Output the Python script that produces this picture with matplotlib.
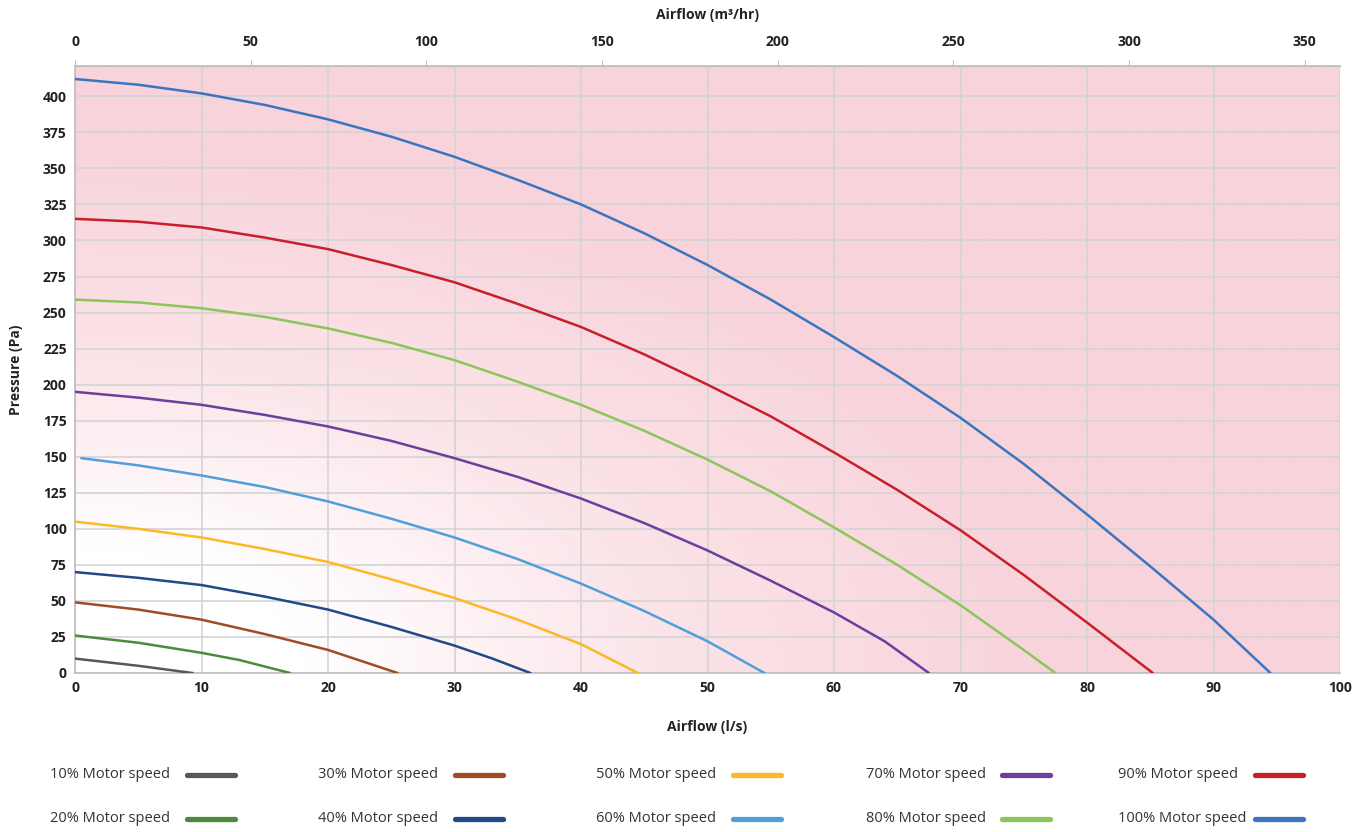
import matplotlib
matplotlib.use('Agg')
import matplotlib.pyplot as plt
import numpy as np
from matplotlib.colors import LinearSegmentedColormap
from matplotlib.lines import Line2D

plt.rcParams['font.family'] = ['Open Sans', 'DejaVu Sans']

# ── data: airflow (l/s) vs pressure (Pa) per motor speed ────────────────────
speeds = ['10%', '20%', '30%', '40%', '50%', '60%', '70%', '80%', '90%', '100%']

flow_10 = [0, 5, 9.3]
pres_10 = [10, 5, 0]
flow_20 = [0, 5, 10, 13, 17]
pres_20 = [26, 21, 14, 9, 0]
flow_30 = [0, 5, 10, 15, 20, 25.5]
pres_30 = [49, 44, 37, 27, 16, 0]
flow_40 = [0, 5, 10, 15, 20, 25, 30, 33, 36]
pres_40 = [70, 66, 61, 53, 44, 32, 19, 10, 0]
flow_50 = [0, 5, 10, 15, 20, 25, 30, 35, 40, 44.5]
pres_50 = [105, 100, 94, 86, 77, 65, 52, 37, 20, 0]
flow_60 = [0.5, 5, 10, 15, 20, 25, 30, 35, 40, 45, 50, 54.5]
pres_60 = [149, 144, 137, 129, 119, 107, 94, 79, 62, 43, 22, 0]
flow_70 = [0, 5, 10, 15, 20, 25, 30, 35, 40, 45, 50, 55, 60, 64, 67.5]
pres_70 = [195, 191, 186, 179, 171, 161, 149, 136, 121, 104, 85, 64, 42, 22, 0]
flow_80 = [0, 5, 10, 15, 20, 25, 30, 35, 40, 45, 50, 55, 60, 65, 70, 75, 77.5]
pres_80 = [259, 257, 253, 247, 239, 229, 217, 202, 186, 168, 148, 126, 101, 75, 47, 16, 0]
flow_90 = [0, 5, 10, 15, 20, 25, 30, 35, 40, 45, 50, 55, 60, 65, 70, 75, 80, 85.2]
pres_90 = [315, 313, 309, 302, 294, 283, 271, 256, 240, 221, 200, 178, 153, 127, 99, 68, 35, 0]
flow_100 = [0, 5, 10, 15, 20, 25, 30, 35, 40, 45, 50, 55, 60, 65, 70, 75, 80, 85, 90, 94.5]
pres_100 = [412, 408, 402, 394, 384, 372, 358, 342, 325, 305, 283, 259, 233, 206, 177, 145, 110, 74, 37, 0]

flows = [flow_10, flow_20, flow_30, flow_40, flow_50, flow_60, flow_70, flow_80, flow_90, flow_100]
pressures = [pres_10, pres_20, pres_30, pres_40, pres_50, pres_60, pres_70, pres_80, pres_90, pres_100]

colors = ['#58585A', '#4E8A3E', '#A24A26', '#1F4A85', '#FDB827',
          '#4F9FDB', '#6A3F9E', '#8CC65A', '#C8202B', '#3B74BF']

x_ticks = list(range(0, 101, 10))
y_ticks = list(range(0, 401, 25))
top_ticks = list(range(0, 351, 50))

fig = plt.figure(figsize=(13.7, 8.32), dpi=100)
fig.patch.set_facecolor('white')
ax = fig.add_axes([75 / 1370, 1 - 673 / 832, 1265 / 1370, 607 / 832])

XMAX, YMAX = 100, 421
ax.set_xlim(0, XMAX)
ax.set_ylim(0, YMAX)

# ── pink gradient background (white in the lower-left corner) ───────────────
gx, gy = np.meshgrid(np.linspace(0, 1, 400), np.linspace(0, 1, 300))
r = np.sqrt(gx ** 2 + (gy * 0.9) ** 2)
t = np.clip((r - 0.18) / 0.6, 0, 1)
cmap = LinearSegmentedColormap.from_list('bg', ['#FFFFFF', '#FBE3E8', '#F8D3DB'])
ax.imshow(t, cmap=cmap, extent=[0, XMAX, 0, YMAX], origin='lower',
          aspect='auto', zorder=0, vmin=0, vmax=1)

# grid
for xv in x_ticks:
    ax.axvline(xv, color='#D4D4D4', lw=1.2, zorder=1)
for yv in y_ticks:
    ax.axhline(yv, color='#D4D4D4', lw=1.2, zorder=1)

for f, p, c in zip(flows, pressures, colors):
    ax.plot(f, p, color=c, lw=1.8, zorder=3, solid_capstyle='round')

ax.set_xticks(x_ticks)
ax.set_yticks(y_ticks)
ax.tick_params(axis='both', length=0, labelsize=10, colors='#222222', pad=6)
for lab in ax.get_xticklabels() + ax.get_yticklabels():
    lab.set_fontweight('bold')
for s in ['left', 'bottom', 'top']:
    ax.spines[s].set_color('#BEBEBE')
    ax.spines[s].set_linewidth(1.2)
ax.spines['right'].set_visible(False)

ax.set_xlabel('Airflow (l/s)', fontsize=10, fontweight='bold', color='#222222', labelpad=18)
ax.set_ylabel('Pressure (Pa)', fontsize=10, fontweight='bold', color='#222222', labelpad=14)

# ── top axis in m3/hr ───────────────────────────────────────────────────────
top = ax.secondary_xaxis('top', functions=(lambda v: v * 3.6, lambda v: v / 3.6))
top.set_xticks(top_ticks)
top.tick_params(length=4, color='#BEBEBE', labelsize=10, colors='#222222', pad=8)
for lab in top.get_xticklabels():
    lab.set_fontweight('bold')
top.spines['top'].set_color('#BEBEBE')
top.set_xlabel('Airflow (m³/hr)', fontsize=10, fontweight='bold', color='#222222', labelpad=12)

# ── legend: 2 rows x 5 columns, text then swatch ────────────────────────────
col_text_x = [50, 318, 596, 866, 1118]
col_line_x = [187, 455, 733, 1002, 1255]
row_y = [775, 819]
for i, (sp, c) in enumerate(zip(speeds, colors)):
    col, row = i // 2, i % 2
    yf = 1 - row_y[row] / 832
    fig.text(col_text_x[col] / 1370, yf, f'{sp} Motor speed', fontsize=10.5,
             color='#333333', va='center', ha='left')
    x0 = col_line_x[col] / 1370
    fig.add_artist(Line2D([x0, x0 + 48 / 1370], [yf, yf], color=c, lw=3.8,
                          solid_capstyle='round', transform=fig.transFigure))

plt.savefig('out.png', dpi=100, facecolor='white')
